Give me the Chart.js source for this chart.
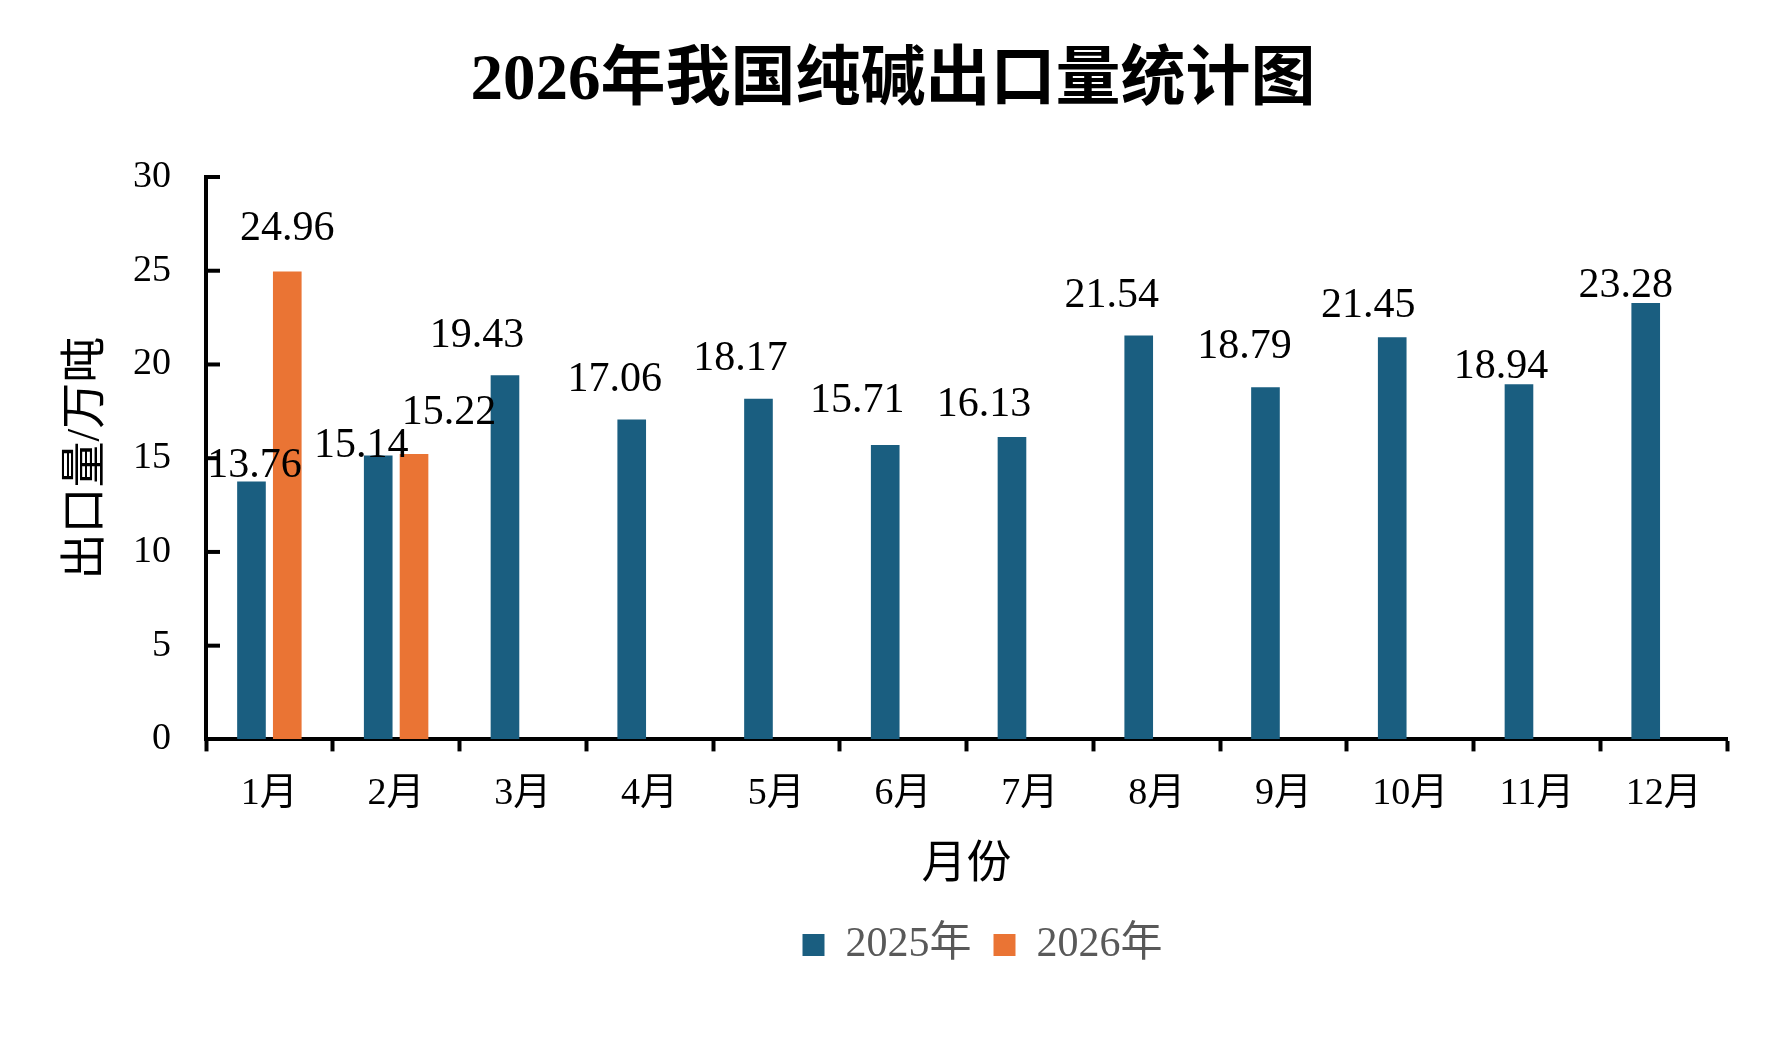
<!DOCTYPE html>
<html lang="zh-CN">
<head>
<meta charset="utf-8">
<title>2026年我国纯碱出口量统计图</title>
<script src="https://cdn.jsdelivr.net/npm/chart.js@4.4.1/dist/chart.umd.min.js"></script>
<style>
  html, body { margin: 0; padding: 0; background: #fff; }
  #wrap { width: 1779px; height: 1049px; }
</style>
</head>
<body>
<div id="wrap"><canvas id="exportChart" width="1779" height="1049"></canvas></div>
<script>
// 月份与出口量（万吨），数值读自原图
const months = ['1月', '2月', '3月', '4月', '5月', '6月', '7月', '8月', '9月', '10月', '11月', '12月'];
const exports2025 = [13.76, 15.14, 19.43, 17.06, 18.17, 15.71, 16.13, 21.54, 18.79, 21.45, 18.94, 23.28];
const exports2026 = [24.96, 15.22, null, null, null, null, null, null, null, null, null, null];
const yTicks = [0, 5, 10, 15, 20, 25, 30];

const seriesNames = ['2025年', '2026年'];
const BLUE = '#1a5e80';
const ORANGE = '#ea7434';

// 数据标签相对柱顶的偏移 [dx, 向上距离]，模仿原图手动拖动后的位置
const labelNudge = [
    [[3, 15], [-17, 10], [-28, 39], [-17, 40], [-18, 40], [-28, 44], [-28, 32], [-27, 40], [-21, 40], [-24, 31], [-18, 17], [-20, 17]],
    [[0, 43], [35, 41]]
];

Chart.defaults.font.family = '"Liberation Serif", "Noto Sans CJK SC", serif';
Chart.defaults.color = '#000';

// y轴刻度线朝内
const yTickMarks = {
    id: 'yTickMarks',
    afterDraw(chart) {
        const { ctx, chartArea, scales } = chart;
        const y = scales.y;
        ctx.save();
        ctx.strokeStyle = '#000';
        ctx.lineWidth = 4;
        y.ticks.forEach(function (t) {
            if (t.value === 0) return;
            const py = y.getPixelForValue(t.value);
            ctx.beginPath();
            ctx.moveTo(chartArea.left, py);
            ctx.lineTo(chartArea.left + 14, py);
            ctx.stroke();
        });
        ctx.restore();
    }
};

// 图例稍向右移，和原图一致
const legendShift = {
    id: 'legendShift',
    afterLayout(chart) {
        if (!chart.legend) return;
        chart.legend.left += 16;
        chart.legend.right += 16;
    }
};

// 柱顶数值
const barLabels = {
    id: 'barLabels',
    afterDatasetsDraw(chart, args, opts) {
        const ctx = chart.ctx;
        ctx.save();
        ctx.font = '42px "Liberation Serif"';
        ctx.fillStyle = '#000';
        ctx.textAlign = 'center';
        ctx.textBaseline = 'middle';
        chart.data.datasets.forEach(function (ds, di) {
            const meta = chart.getDatasetMeta(di);
            meta.data.forEach(function (bar, i) {
                const v = ds.data[i];
                if (v == null) return;
                const n = (opts.nudge[di] && opts.nudge[di][i]) || [0, 20];
                ctx.fillText(v.toFixed(2), bar.x + n[0], bar.y - n[1]);
            });
        });
        ctx.restore();
    }
};

const ctx = document.getElementById('exportChart').getContext('2d');
const exportChart = new Chart(ctx, {
    type: 'bar',
    data: {
        labels: months,
        datasets: [{
            label: seriesNames[0],
            data: exports2025,
            backgroundColor: BLUE,
            categoryPercentage: 0.565,
            barPercentage: 0.8
        }, {
            label: seriesNames[1],
            data: exports2026,
            backgroundColor: ORANGE,
            categoryPercentage: 0.565,
            barPercentage: 0.8
        }]
    },
    options: {
        responsive: false,
        devicePixelRatio: 1,
        animation: false,
        layout: {
            padding: { left: 59, right: 52, top: 0, bottom: 73 }
        },
        plugins: {
            title: {
                display: true,
                text: '2026年我国纯碱出口量统计图',
                color: '#000',
                font: { size: 65, weight: 'bold' },
                padding: { top: 43, bottom: 56 }
            },
            legend: {
                position: 'bottom',
                fullSize: false,
                labels: {
                    boxWidth: 22,
                    boxHeight: 22,
                    padding: 22,
                    color: '#595959',
                    font: { size: 42 }
                }
            },
            tooltip: { enabled: false },
            barLabels: { nudge: labelNudge }
        },
        scales: {
            x: {
                grid: {
                    display: true,
                    offset: true,
                    drawOnChartArea: false,
                    drawTicks: true,
                    tickLength: 12,
                    tickWidth: 4,
                    tickColor: '#000'
                },
                border: { display: true, color: '#000', width: 4 },
                ticks: {
                    color: '#000',
                    padding: 20,
                    font: { size: 38 }
                },
                title: {
                    display: true,
                    text: '月份',
                    color: '#000',
                    font: { size: 45 },
                    padding: { top: 2, bottom: 9 }
                }
            },
            y: {
                min: 0,
                max: 30,
                afterBuildTicks(scale) {
                    scale.ticks = yTicks.map(function (v) { return { value: v }; });
                },
                afterFit(scale) {
                    scale.width = 147;
                },
                grid: {
                    drawOnChartArea: false,
                    drawTicks: false
                },
                border: { display: true, color: '#000', width: 4 },
                ticks: {
                    color: '#000',
                    padding: 35,
                    font: { size: 38 }
                },
                title: {
                    display: true,
                    text: '出口量/万吨',
                    color: '#000',
                    font: { size: 46 },
                    padding: { top: 0, bottom: 0 }
                }
            }
        }
    },
    plugins: [yTickMarks, legendShift, barLabels]
});
</script>
</body>
</html>
